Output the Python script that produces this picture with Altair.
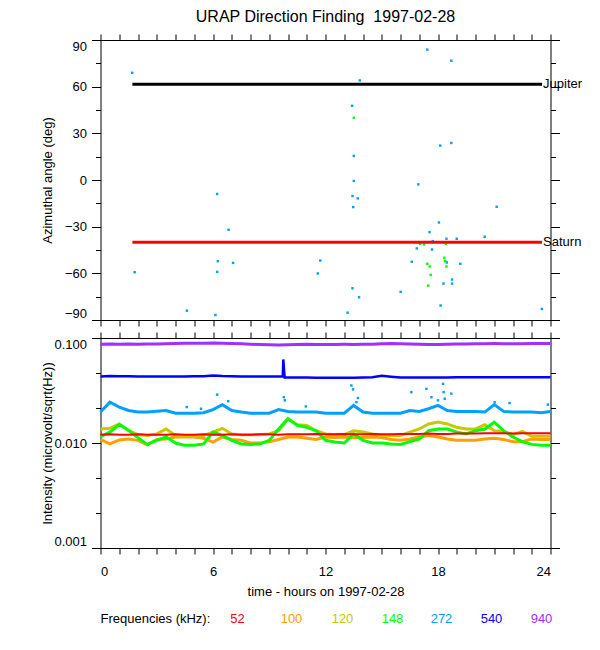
import altair as alt
import pandas as pd

TITLE = "URAP Direction Finding \u00a01997-02-28"
X_TITLE = "time - hours on 1997-02-28"
Y_TOP_TITLE = "Azimuthal angle (deg)"
Y_BOT_TITLE = "Intensity (microvolt/sqrt(Hz))"
LEGEND_TITLE = "Frequencies (kHz):"

HOUR_TICKS = list(range(25))
ANGLE_TICKS = list(range(-90, 91, 15))
INT_TICKS = [0.001, 0.002154, 0.004642, 0.01, 0.02154, 0.04642, 0.1]

PLANETS = ["Jupiter", "Saturn"]
PLANET_ANGLE = [61.5, -40.0]
PLANET_START = [1.7, 1.7]
PLANET_END = [23.55, 23.55]
PLANET_COLORS = ["#000000", "#ff0000"]

# direction finding points, 272 kHz
AZ272_H = [1.69, 1.82, 4.61, 6.13, 6.22, 6.22, 6.26, 6.83, 7.07, 11.59, 11.72,
           13.18, 13.42, 13.44, 13.44, 13.48, 13.51, 13.51, 13.72, 13.79, 13.83,
           16.01, 16.60, 16.87, 16.95, 17.43, 17.55, 17.68, 17.72, 18.05, 18.12,
           18.14, 18.29, 18.45, 18.47, 18.71, 18.71, 18.75, 18.75, 19.00, 19.19,
           20.49, 21.13, 23.54]
AZ272_A = [68.9, -59.3, -84.0, -86.8, -9.0, -59.1, -52.2, -32.0, -53.3, -60.1, -51.8,
           -85.3, 47.7, -69.6, -10.3, -17.4, 15.5, -0.6, -11.8, -75.4, 64.0,
           -71.9, -52.6, -44.0, -2.8, 83.8, -33.5, -44.7, -39.3, -27.3, 22.1,
           -80.7, -66.6, -37.8, -53.0, 76.7, 23.8, -64.0, -66.6, -37.8, -53.9,
           -36.5, -17.2, -82.9]
# direction finding points, 148 kHz
AZ148_H = [13.51, 17.04, 17.26, 17.43, 17.56, 17.61, 17.48, 18.34, 18.38, 18.42, 18.45]
AZ148_A = [40.0, -41.0, -41.4, -53.9, -55.6, -61.0, -67.9, -50.0, -52.2, -41.0, -55.6]

FREQS = ["52", "100", "120", "148", "272", "540", "940"]
FREQ_COLORS = ["#ff0000", "#ffa000", "#c8c800", "#00ff00", "#00a0ff", "#0000ff", "#a030ff"]

HOURS = [0.0, 0.5, 1.0, 1.5, 2.0, 2.5, 3.0, 3.5, 4.0, 4.5, 5.0, 5.5, 6.0,
         6.5, 7.0, 7.5, 8.0, 8.5, 9.0, 9.5, 10.0, 10.5, 11.0, 11.5, 12.0,
         12.5, 13.0, 13.5, 14.0, 14.5, 15.0, 15.5, 16.0, 16.5, 17.0, 17.5, 18.0,
         18.5, 19.0, 19.5, 20.0, 20.5, 21.0, 21.5, 22.0, 22.5, 23.0, 23.5, 24.0]

I52 = [0.0120, 0.0121, 0.0120, 0.0120, 0.0121, 0.0120, 0.0120, 0.0120, 0.0121, 0.0120, 0.0120, 0.0121, 0.0120,
       0.0120, 0.0121, 0.0120, 0.0120, 0.0121, 0.0121, 0.0120, 0.0121, 0.0121, 0.0121, 0.0122, 0.0121,
       0.0121, 0.0122, 0.0121, 0.0121, 0.0122, 0.0121, 0.0121, 0.0122, 0.0122, 0.0122, 0.0123, 0.0122,
       0.0122, 0.0123, 0.0123, 0.0123, 0.0124, 0.0124, 0.0124, 0.0123, 0.0124, 0.0124, 0.0124, 0.0124]
I100 = [0.0108, 0.0098, 0.0107, 0.0109, 0.0106, 0.0096, 0.0108, 0.0109, 0.0114, 0.0114, 0.0114, 0.0111, 0.0102,
        0.0114, 0.0108, 0.0106, 0.0100, 0.0100, 0.0103, 0.0108, 0.0114, 0.0114, 0.0111, 0.0108, 0.0114,
        0.0113, 0.0114, 0.0112, 0.0113, 0.0114, 0.0113, 0.0108, 0.0106, 0.0109, 0.0114, 0.0118, 0.0114,
        0.0109, 0.0106, 0.0106, 0.0106, 0.0109, 0.0111, 0.0108, 0.0103, 0.0103, 0.0109, 0.0108, 0.0108]
I120 = [0.0136, 0.0138, 0.0152, 0.0131, 0.0120, 0.0118, 0.0122, 0.0136, 0.0118, 0.0116, 0.0116, 0.0118, 0.0127,
        0.0138, 0.0122, 0.0120, 0.0120, 0.0120, 0.0122, 0.0131, 0.0170, 0.0149, 0.0147, 0.0131, 0.0122,
        0.0120, 0.0120, 0.0131, 0.0127, 0.0122, 0.0118, 0.0118, 0.0118, 0.0127, 0.0136, 0.0152, 0.0158,
        0.0152, 0.0141, 0.0136, 0.0136, 0.0149, 0.0131, 0.0129, 0.0120, 0.0129, 0.0116, 0.0116, 0.0116]
I148 = [0.0115, 0.0127, 0.0150, 0.0132, 0.0112, 0.0097, 0.0106, 0.0114, 0.0100, 0.0095, 0.0095, 0.0098, 0.0127,
        0.0118, 0.0106, 0.0098, 0.0097, 0.0098, 0.0106, 0.0136, 0.0170, 0.0147, 0.0141, 0.0131, 0.0106,
        0.0102, 0.0100, 0.0122, 0.0106, 0.0100, 0.0100, 0.0098, 0.0097, 0.0103, 0.0109, 0.0131, 0.0136,
        0.0136, 0.0127, 0.0122, 0.0131, 0.0136, 0.0158, 0.0131, 0.0114, 0.0103, 0.0097, 0.0095, 0.0095]
I272 = [0.0197, 0.0245, 0.0220, 0.0204, 0.0197, 0.0197, 0.0201, 0.0204, 0.0192, 0.0192, 0.0192, 0.0194, 0.0208,
        0.0232, 0.0204, 0.0197, 0.0192, 0.0192, 0.0192, 0.0208, 0.0200, 0.0197, 0.0197, 0.0197, 0.0192,
        0.0192, 0.0192, 0.0228, 0.0197, 0.0192, 0.0192, 0.0192, 0.0192, 0.0204, 0.0200, 0.0212, 0.0228,
        0.0204, 0.0200, 0.0200, 0.0200, 0.0197, 0.0232, 0.0200, 0.0197, 0.0197, 0.0197, 0.0194, 0.0200]
I540 = [0.0430, 0.0434, 0.0433, 0.0432, 0.0431, 0.0431, 0.0430, 0.0431, 0.0430, 0.0431, 0.0432, 0.0433, 0.0440,
        0.0434, 0.0432, 0.0431, 0.0430, 0.0430, 0.0429, 0.0429, 0.0421, 0.0420, 0.0420, 0.0419, 0.0419,
        0.0418, 0.0419, 0.0419, 0.0420, 0.0422, 0.0436, 0.0428, 0.0421, 0.0420, 0.0420, 0.0420, 0.0421,
        0.0421, 0.0422, 0.0422, 0.0423, 0.0422, 0.0423, 0.0422, 0.0422, 0.0422, 0.0422, 0.0422, 0.0422]
I940 = [0.0873, 0.0875, 0.0872, 0.0876, 0.0874, 0.0875, 0.0878, 0.0880, 0.0885, 0.0890, 0.0892, 0.0893, 0.0895,
        0.0890, 0.0885, 0.0880, 0.0872, 0.0866, 0.0862, 0.0860, 0.0863, 0.0868, 0.0870, 0.0868, 0.0869,
        0.0868, 0.0870, 0.0869, 0.0870, 0.0872, 0.0880, 0.0885, 0.0882, 0.0875, 0.0870, 0.0868, 0.0866,
        0.0870, 0.0875, 0.0878, 0.0880, 0.0883, 0.0884, 0.0882, 0.0880, 0.0882, 0.0884, 0.0885, 0.0886]

# 540 kHz spike near 09:45
SPIKE540_H = [9.72, 9.75, 9.78, 9.82]
SPIKE540_V = [0.0429, 0.0625, 0.0520, 0.0421]

# scattered 272 kHz bursts
BURST272_H = [4.60, 5.36, 6.22, 6.81, 9.78, 9.83, 10.95, 13.38, 13.47, 13.73, 13.65,
              16.58, 17.38, 17.65, 18.00, 18.27, 18.30, 18.36, 18.71, 21.02, 21.82, 23.86]
BURST272_V = [0.0220, 0.0212, 0.0289, 0.0250, 0.0273, 0.0255, 0.0223, 0.0353, 0.0324, 0.0268, 0.0245,
              0.0305, 0.0328, 0.0273, 0.0255, 0.0366, 0.0305, 0.0264, 0.0295, 0.0245, 0.0240, 0.0232]

FONT = "Liberation Sans"

# ---------- shared axis / scale settings ----------
x_scale = alt.Scale(domain=[0, 24], nice=False, zero=False)
ang_scale = alt.Scale(domain=[-90, 90], nice=False, zero=False)
int_scale = alt.Scale(type="log", domain=[0.001, 0.1], nice=False)

common_ax = dict(domainColor="black", tickColor="black", labelColor="black", titleColor="black",
                 grid=False, labelFont=FONT, titleFont=FONT, labelFontSize=13, titleFontSize=13,
                 titleFontWeight="normal", domainWidth=1, tickWidth=1)

ang_major = "datum.value % 30 === 0"
int_major = "abs(log(datum.value) / LN10 - round(log(datum.value) / LN10)) < 0.01"

x_bottom_nolab = alt.Axis(orient="bottom", values=HOUR_TICKS, labels=False, tickSize=6, title=None, **common_ax)
x_top = alt.Axis(orient="top", values=HOUR_TICKS, labels=False, tickSize=6, title=None, **common_ax)
x_bottom = alt.Axis(orient="bottom", values=HOUR_TICKS, tickSize=6, labelPadding=11, labelAngle=0,
                    labelExpr="datum.value % 6 === 0 ? datum.label : ''", labelOverlap=False,
                    format="d", title=X_TITLE, titlePadding=7, **common_ax)

y_ang_left = alt.Axis(orient="left", values=ANGLE_TICKS, format="d",
                      labelExpr=ang_major + " ? datum.label : ''", labelOverlap=False, labelFlush=True,
                      tickSize={"condition": {"test": ang_major, "value": 9}, "value": 5},
                      labelPadding=5, minExtent=40, maxExtent=40, title=Y_TOP_TITLE, titlePadding=6,
                      **common_ax)
y_ang_right = alt.Axis(orient="right", values=ANGLE_TICKS, labels=False, title=None,
                       tickSize={"condition": {"test": ang_major, "value": 9}, "value": 5}, **common_ax)
y_int_left = alt.Axis(orient="left", values=INT_TICKS, format=".3f",
                      labelExpr=int_major + " ? format(datum.value, '.3f') : ''", labelOverlap=False,
                      labelFlush=True,
                      tickSize={"condition": {"test": int_major, "value": 9}, "value": 5},
                      labelPadding=5, minExtent=40, maxExtent=40, title=Y_BOT_TITLE, titlePadding=6,
                      **common_ax)
y_int_right = alt.Axis(orient="right", values=INT_TICKS, labels=False, title=None,
                       tickSize={"condition": {"test": int_major, "value": 9}, "value": 5}, **common_ax)

# ---------- top panel ----------
df272 = pd.DataFrame({"hour": AZ272_H, "angle": AZ272_A})
df148 = pd.DataFrame({"hour": AZ148_H, "angle": AZ148_A})
dfpl = pd.DataFrame({"planet": PLANETS, "angle": PLANET_ANGLE, "start": PLANET_START,
                     "end": PLANET_END, "color": PLANET_COLORS})

pts272 = alt.Chart(df272).mark_square(size=6, color=FREQ_COLORS[4], opacity=1).encode(
    x=alt.X("hour:Q", scale=x_scale, axis=x_bottom_nolab),
    y=alt.Y("angle:Q", scale=ang_scale, axis=y_ang_left),
)
pts148 = alt.Chart(df148).mark_square(size=6, color=FREQ_COLORS[3], opacity=1).encode(
    x=alt.X("hour:Q", scale=x_scale, axis=None),
    y=alt.Y("angle:Q", scale=ang_scale, axis=None),
)
planet_lines = alt.Chart(dfpl).mark_rule(strokeWidth=3).encode(
    x=alt.X("start:Q", scale=x_scale, axis=x_top),
    x2="end:Q",
    y=alt.Y("angle:Q", scale=ang_scale, axis=y_ang_right),
    color=alt.Color("color:N", scale=None),
)
planet_text = alt.Chart(dfpl).mark_text(align="left", baseline="middle", dx=1, font=FONT,
                                        fontSize=13, color="black").encode(
    x=alt.X("end:Q", scale=x_scale, axis=None),
    y=alt.Y("angle:Q", scale=ang_scale, axis=None),
    text="planet:N",
)

top = alt.layer(pts272, pts148, planet_lines, planet_text).properties(
    width=450, height=280,
    title=alt.TitleParams(text=TITLE, font=FONT, fontSize=16, fontWeight="normal", color="black",
                          anchor="middle", frame="group", offset=9),
)

# ---------- bottom panel ----------
def line_layer(hours, vals, color, width, xax=None, yax=None):
    d = pd.DataFrame({"hour": hours, "val": vals})
    return alt.Chart(d).mark_line(color=color, strokeWidth=width, interpolate="linear").encode(
        x=alt.X("hour:Q", scale=x_scale, axis=xax),
        y=alt.Y("val:Q", scale=int_scale, axis=yax),
    )

h540 = HOURS + SPIKE540_H
v540 = I540 + SPIKE540_V

l940 = line_layer(HOURS, I940, FREQ_COLORS[6], 3, x_bottom, y_int_left)
l540 = line_layer(h540, v540, FREQ_COLORS[5], 2.5, x_top, y_int_right)
l272 = line_layer(HOURS, I272, FREQ_COLORS[4], 3)
l100 = line_layer(HOURS, I100, FREQ_COLORS[1], 3)
l120 = line_layer(HOURS, I120, FREQ_COLORS[2], 3)
l148 = line_layer(HOURS, I148, FREQ_COLORS[3], 3)
l52 = line_layer(HOURS, I52, FREQ_COLORS[0], 2)

burst = alt.Chart(pd.DataFrame({"hour": BURST272_H, "val": BURST272_V})).mark_square(
    size=6, color=FREQ_COLORS[4], opacity=1).encode(
    x=alt.X("hour:Q", scale=x_scale, axis=None),
    y=alt.Y("val:Q", scale=int_scale, axis=None),
)

LEG_Y = 281
LEG_X = [137, 191, 242, 292, 341, 391, 441]
legend_layers = [
    alt.Chart(pd.DataFrame({"t": [LEGEND_TITLE]})).mark_text(
        align="left", baseline="middle", font=FONT, fontSize=13, color="black").encode(
        text="t:N", x=alt.value(0), y=alt.value(LEG_Y))
]
for f, c, px in zip(FREQS, FREQ_COLORS, LEG_X):
    legend_layers.append(
        alt.Chart(pd.DataFrame({"t": [f]})).mark_text(
            align="center", baseline="middle", font=FONT, fontSize=13, color=c).encode(
            text="t:N", x=alt.value(px), y=alt.value(LEG_Y))
    )

bottom = alt.layer(l940, l540, l272, l100, l120, l148, l52, burst, *legend_layers).properties(
    width=450, height=210)

chart = alt.vconcat(top, bottom, spacing=4).properties(
    padding={"left": 33.5, "top": 0, "right": 0, "bottom": 0},
    background="white",
).configure(font=FONT).configure_view(stroke=None)

chart.save("out.html", embed_options={"renderer": "svg", "actions": False})
